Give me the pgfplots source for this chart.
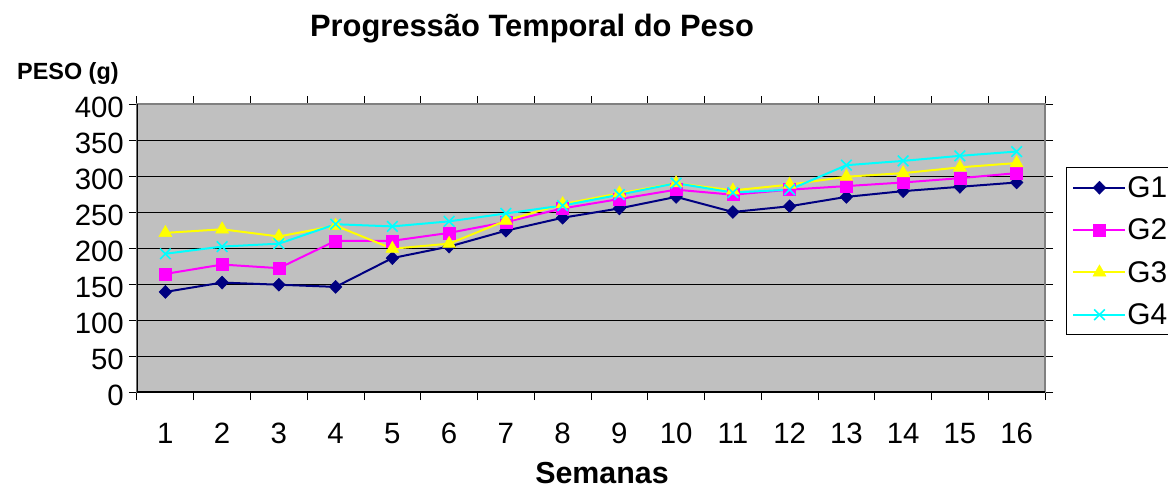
\documentclass[border=0pt]{standalone}
\usepackage{fontspec}
\setmainfont{Liberation Sans}
\usepackage{pgfplots}
\pgfplotsset{compat=1.18}
\definecolor{gone}{HTML}{000080}
\definecolor{gtwo}{HTML}{FF00FF}
\definecolor{gthree}{HTML}{FFFF00}
\definecolor{gfour}{HTML}{00FFFF}
\definecolor{bgray}{HTML}{C0C0C0}
\definecolor{framegray}{HTML}{808080}
\begin{document}
\begin{tikzpicture}
\begin{axis}[
  at={(0,0)}, anchor=south west,
  scale only axis, width=908bp, height=288bp,
  xmin=0.5, xmax=16.5, ymin=0, ymax=400,
  axis background/.style={fill=bgray},
  axis line style={draw=framegray, line width=1.2bp},
  xtick={1,...,16},
  minor xtick={0.5,1.5,...,16.5},
  ytick={0,50,...,400},
  ymajorgrids,
  major grid style={black, line width=0.8bp},
  tick align=outside,
  major tick length=8bp, minor tick length=8bp,
  tick style={black, line width=1bp},
  major x tick style={draw=none},
  /pgf/number format/assume math mode=true,
  ticklabel style={font=\fontsize{29.5}{34}\selectfont},
  xticklabel style={anchor=base, yshift=-43bp},
  yticklabel style={anchor=east, inner sep=0pt, xshift=-5bp, yshift=-3bp},
  legend style={at={(1.0231,0.78125)}, anchor=north west, draw=black, line width=1bp,
    fill=white, font=\fontsize{30}{36}\selectfont, row sep=16bp,
    inner xsep=6bp, inner ysep=7bp,
    nodes={inner xsep=1bp}},
  legend cell align=left,
  legend image code/.code={\draw[mark repeat=2,mark phase=2] plot coordinates {(0bp,0bp) (26bp,0bp) (52bp,0bp)};},
]
\addplot[color=gone, line width=2bp, mark=diamond*, mark size=6.5bp,
  mark options={solid, fill=gone, xscale=1.3, line width=0.5bp}]
  coordinates {(1,139)(2,152)(3,149)(4,146)(5,186)(6,202)(7,224)(8,242)
  (9,255)(10,271)(11,250)(12,258)(13,271)(14,279)(15,285)(16,291)};
\addlegendentry{G1}
\addplot[color=gtwo, line width=2bp, mark=square*, mark size=6bp,
  mark options={solid, fill=gtwo, line width=0.5bp}]
  coordinates {(1,164)(2,177)(3,172)(4,210)(5,210)(6,221)(7,236)(8,255)
  (9,268)(10,281)(11,274)(12,281)(13,286)(14,291)(15,297)(16,304)};
\addlegendentry{G2}
\addplot[color=gthree, line width=2bp, mark=triangle*, mark size=7.5bp,
  mark options={solid, fill=gthree, line width=0.5bp}]
  coordinates {(1,221)(2,226)(3,216)(4,231)(5,199)(6,206)(7,238)(8,261)
  (9,276)(10,290)(11,280)(12,288)(13,299)(14,304)(15,312)(16,318)};
\addlegendentry{G3}
\addplot[color=gfour, line width=2bp, mark=x, mark size=7.5bp,
  mark options={solid, line width=1.6bp}]
  coordinates {(1,192)(2,202)(3,206)(4,233)(5,230)(6,237)(7,248)(8,259)
  (9,274)(10,290)(11,277)(12,281)(13,315)(14,321)(15,328)(16,334)};
\addlegendentry{G4}
\draw[black, line width=1.5bp] (rel axis cs:0,1) -- (rel axis cs:0,0) -- (rel axis cs:1,0);
\end{axis}
\node[anchor=base, font=\fontsize{31}{36}\selectfont\bfseries, inner sep=0pt] at (395bp,355bp) {Progressão Temporal do Peso};
\node[anchor=base west, font=\fontsize{23.5}{28}\selectfont\bfseries, inner sep=0pt] at (-120bp,312bp) {PESO (g)};
\node[anchor=base, font=\fontsize{30.5}{36}\selectfont\bfseries, inner sep=0pt] at (465bp,-91bp) {Semanas};
\pgfresetboundingbox
\useasboundingbox (-137bp,-96bp) rectangle (1031bp,392bp);
\end{tikzpicture}
\end{document}
